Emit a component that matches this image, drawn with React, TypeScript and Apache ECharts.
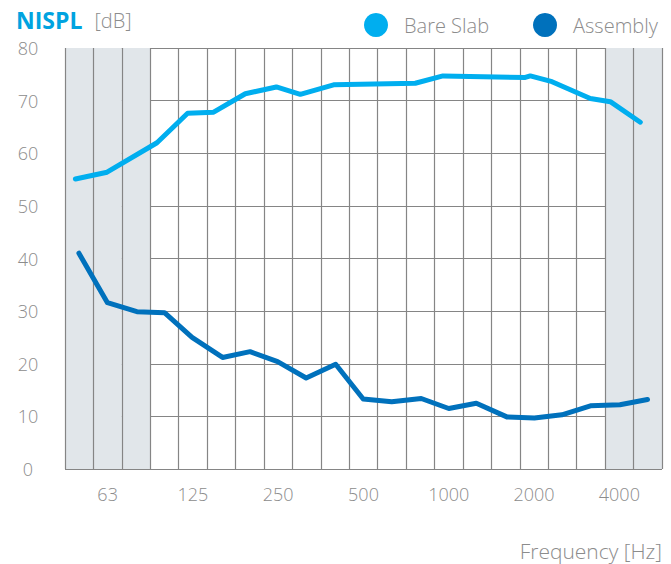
import React, { useEffect, useRef } from "react";
import * as echarts from "echarts";

// 1/3-octave bands (grid columns)
const bandLabels = ["50","63","80","100","125","160","200","250","315","400","500","630","800","1000","1250","1600","2000","2500","3150","4000","5000"];
const labeledBands = ["63","125","250","500","1000","2000","4000"];
const shadedBands = ["50","63","80","4000","5000"];

// Bare Slab (frequency in Hz, level in dB)
const bareSlabFreq = [48.6, 62.8, 94.1, 120.6, 148.9, 192.4, 247.4, 300.4, 393.3, 762.3, 954, 1858, 1935, 2307, 3147, 3700, 4718];
const bareSlabValues = [55.1, 56.4, 62.0, 67.6, 67.8, 71.3, 72.6, 71.2, 73.0, 73.3, 74.7, 74.4, 74.7, 73.6, 70.4, 69.8, 65.9];

// Assembly
const assemblyFreq = [50, 63, 80, 100, 125, 160, 200, 250, 315, 400, 500, 630, 800, 1000, 1250, 1600, 2000, 2500, 3150, 4000, 5000];
const assemblyValues = [41.0, 31.6, 29.9, 29.7, 25.0, 21.2, 22.3, 20.4, 17.3, 19.9, 13.3, 12.8, 13.4, 11.5, 12.5, 9.9, 9.7, 10.3, 12.0, 12.2, 13.2];

const yMin = 0;
const yMax = 80;
const yInterval = 10;

const FONT = "'Open Sans', 'Noto Sans', sans-serif";
const GRAY = "#8c8c8c";
const GRID = "#858585";

export default function App() {
  const ref = useRef<HTMLDivElement>(null);

  useEffect(() => {
    document.body.style.margin = "0";
    const chart = echarts.init(ref.current!, null, { renderer: "svg" });
    const xMin = Math.pow(10, 1.65);
    const xMax = Math.pow(10, 3.75);
    const bandColors = bandLabels.map((b) => (shadedBands.includes(b) ? "#e1e6ea" : "rgba(255,255,255,0)"));

    chart.setOption({
      animation: false,
      backgroundColor: "#ffffff",
      textStyle: { fontFamily: FONT },
      title: {
        left: 16,
        top: 8,
        padding: 0,
        text: "{a|NISPL}{b|[dB]}",
        textStyle: {
          rich: {
            a: { fontFamily: FONT, fontSize: 23, fontWeight: 700, color: "#00a3e0", lineHeight: 24 },
            b: { fontFamily: FONT, fontSize: 20, fontWeight: 300, color: GRAY, padding: [0, 0, 0, 12], lineHeight: 24 },
          },
        },
      },
      legend: {
        left: 359,
        top: 8,
        icon: "circle",
        itemWidth: 24,
        itemHeight: 24,
        itemGap: 44,
        textStyle: { fontFamily: FONT, fontSize: 20, fontWeight: 300, color: GRAY, padding: [0, 0, 0, 11] },
        data: ["Bare Slab", "Assembly"],
      },
      grid: { left: 65, right: 9, top: 48, bottom: 95, containLabel: false },
      xAxis: [
        {
          type: "category",
          data: bandLabels,
          boundaryGap: true,
          axisLine: { show: false },
          axisTick: { show: false },
          axisLabel: {
            interval: 0,
            margin: 16,
            color: GRAY,
            fontFamily: FONT,
            fontSize: 18,
            fontWeight: 300,
            formatter: (v: string) => (labeledBands.includes(v) ? v : ""),
          },
          splitLine: { show: true, interval: 0, lineStyle: { color: GRID, width: 1.2 } },
          splitArea: { show: true, interval: 0, areaStyle: { color: bandColors } },
        },
        {
          type: "log",
          logBase: 10,
          min: xMin,
          max: xMax,
          show: false,
          splitLine: { show: false },
        },
      ],
      yAxis: {
        type: "value",
        min: yMin,
        max: yMax,
        interval: yInterval,
        axisLine: { show: false },
        axisTick: { show: false },
        axisLabel: { align: "center", margin: 37, color: GRAY, fontFamily: FONT, fontSize: 18, fontWeight: 300 },
        splitLine: { show: true, lineStyle: { color: GRID, width: 1.2 } },
      },
      series: [
        {
          name: "Bare Slab",
          type: "line",
          xAxisIndex: 1,
          data: bareSlabFreq.map((f, i) => [f, bareSlabValues[i]]),
          showSymbol: false,
          symbol: "none",
          color: "#00aeef",
          lineStyle: { width: 5, color: "#00aeef", cap: "round", join: "round" },
        },
        {
          name: "Assembly",
          type: "line",
          xAxisIndex: 1,
          data: assemblyFreq.map((f, i) => [f, assemblyValues[i]]),
          showSymbol: false,
          symbol: "none",
          color: "#0071bc",
          lineStyle: { width: 5, color: "#0071bc", cap: "round", join: "round" },
        },
      ],
      graphic: [
        {
          type: "text",
          right: 9,
          top: 540,
          style: { text: "Frequency [Hz]", font: `300 21px ${FONT}`, fill: GRAY },
        },
      ],
    });
    return () => chart.dispose();
  }, []);

  return <div ref={ref} style={{ width: 671, height: 564 }} />;
}
